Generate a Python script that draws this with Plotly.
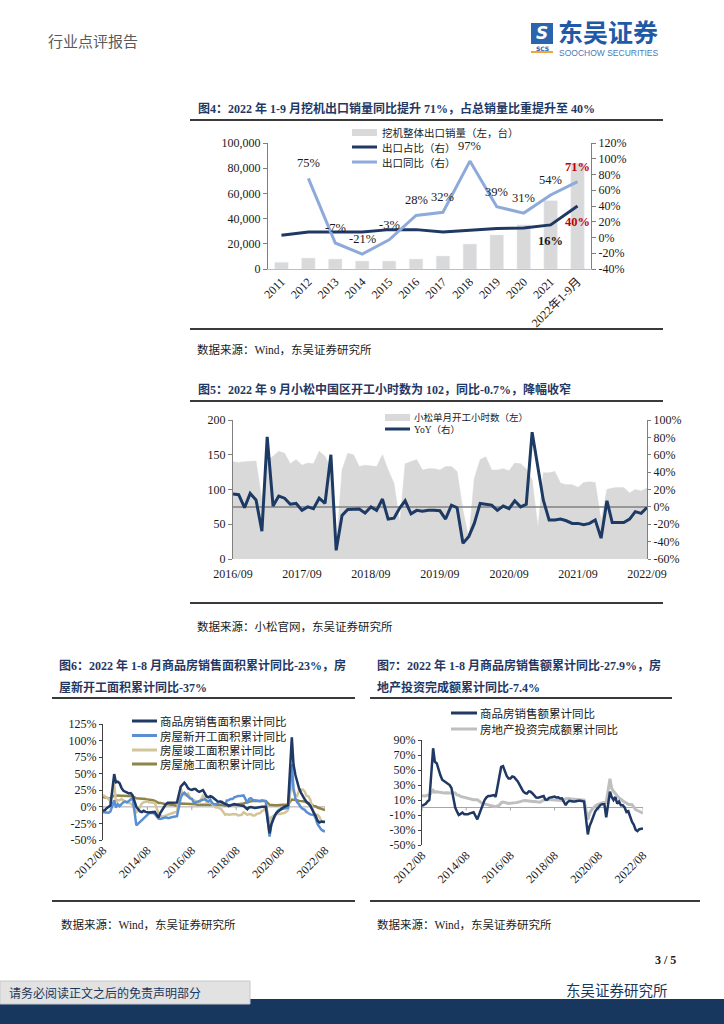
import pandas as pd
import plotly.graph_objects as go

W, H = 724, 1024
SERIF = "Liberation Serif, Noto Sans CJK SC, serif"
CJK = "Noto Sans CJK SC, sans-serif"
NAVY = "#1f3864"
TXT = "#1a1a1a"

# ---------------- Figure 4 data ----------------
fig4_years = ["2011", "2012", "2013", "2014", "2015", "2016", "2017", "2018",
              "2019", "2020", "2021", "2022年1-9月"]
fig4_export_units = [5300, 8700, 7900, 6300, 6300, 7900, 10300, 19800, 27000, 35000, 54200, 84000]
fig4_export_share = [3, 7, 7, 7, 10, 10, 7, 9, 11.5, 12, 16, 40]
fig4_export_yoy = [None, 75, -7, -21, -3, 28, 32, 97, 39, 31, 54, 71]
fig4_left_ticks = [0, 20000, 40000, 60000, 80000, 100000]
fig4_right_ticks = [-40, -20, 0, 20, 40, 60, 80, 100, 120]

# ---------------- Figure 5 data ----------------
fig5_months = pd.date_range("2016-09-01", "2022-09-01", freq="MS")
fig5_hours = [140, 139, 140, 141, 141, 85, 142, 148, 155, 152,
              137, 143, 135, 138, 137, 155, 148, 130, 16, 128,
              152, 150, 133, 135, 134, 133, 150, 128, 109, 52,
              137, 140, 143, 128, 130, 130, 128, 133, 133, 126,
              70, 30, 116, 143, 147, 128, 128, 130, 127, 138,
              137, 130, 114, 45, 124, 124, 126, 109, 107, 107,
              103, 110, 111, 110, 55, 100, 102, 103, 103, 95,
              100, 98, 102]
fig5_yoy = [14.8, 14, -1, 15.5, 8, -28, 80.6, 1, 12.5, 10,
            3, 4, -4, 0, -2, 10, 4, 60, -50, -10,
            -3, -3, -2.5, -7, 0, -4, 9, -14, -13, -1,
            7, -8, -4, -5, -4, -4, -4.5, -14, 2, -1,
            -42, -34, -19, 4, 3, 2, -4, 1, -2, 7,
            0, 3, 86, 46, 8, -15, -15, -14, -16, -19,
            -19, -20.5, -19, -15, -36, 7, -18, -18, -18, -14,
            -5.5, -7.5, -0.7]
fig5_tick_dates = ["2016-09-01", "2017-09-01", "2018-09-01", "2019-09-01",
                   "2020-09-01", "2021-09-01", "2022-09-01"]
fig5_tick_text = ["2016/09", "2017/09", "2018/09", "2019/09", "2020/09", "2021/09", "2022/09"]
fig5_left_ticks = [0, 50, 100, 150, 200]
fig5_right_ticks = [-60, -40, -20, 0, 20, 40, 60, 80, 100]

# ---------------- Figure 6 / 7 data (cumulative, Feb-Dec each year) ----------------
fig67_months = [d for d in pd.date_range("2012-08-01", "2022-08-01", freq="MS") if d.month != 1]
fig67_tick_dates = ["2012-08-01", "2014-08-01", "2016-08-01", "2018-08-01", "2020-08-01", "2022-08-01"]
fig67_tick_text = ["2012/08", "2014/08", "2016/08", "2018/08", "2020/08", "2022/08"]

sales_area = [-6, -5, -2, 0, 2,
              49.5, 37.1, 38.0, 35.6, 28.7, 24.4, 22.8, 21.6, 20.2, 20.8, 17.3,
              -0.1, -3.8, -6.8, -7.8, -6.0, -7.6, -8.3, -8.6, -8.0, -8.2, -7.6,
              -16.3, -9.2, -4.8, -0.2, 3.9, 6.1, 6.2, 7.2, 7.2, 7.4, 6.5,
              30.4, 33.1, 36.5, 33.2, 27.9, 26.4, 25.5, 26.9, 26.8, 24.3, 22.5,
              25.1, 19.5, 15.7, 14.3, 16.1, 15.0, 12.7, 10.3, 8.2, 7.9, 7.7,
              4.1, 3.6, 1.3, 2.9, 3.3, 4.2, 4.0, 2.9, 2.2, 1.4, 1.3,
              -3.6, -0.9, -0.3, -1.6, -1.8, -1.3, -0.6, -0.1, 0.1, 0.2, -0.1,
              -39.9, -26.3, -19.3, -12.3, -8.4, -5.8, -3.3, -1.8, 0.0, 1.3, 2.6,
              104.9, 63.8, 48.1, 36.3, 27.7, 21.5, 15.9, 11.3, 7.6, 4.8, 1.9,
              -9.6, -13.8, -20.9, -23.6, -22.2, -23.1, -23.0]
new_starts = [-8, -8, -8, -9, -7,
              10, -1, 4, 1, 4, 7, 8, 7, 9, 11, 13.5,
              -27.9, -25.2, -22.5, -19.8, -16.4, -13.8, -12.0, -9.3, -8.8, -9.0, -10.7,
              -17.7, -18.4, -17.3, -16.1, -15.8, -16.8, -16.8, -15.6, -15.1, -15.1, -14.0,
              13.7, 19.2, 21.4, 18.6, 14.9, 12.7, 12.2, 6.8, 6.6, 7.6, 8.1,
              10.4, 11.6, 9.8, 8.1, 10.6, 5.5, 3.9, 4.0, 5.8, 7.7, 7.0,
              2.9, 9.7, 10.1, 11.8, 11.8, 14.4, 15.9, 16.4, 16.3, 16.8, 17.2,
              6.0, 11.9, 13.1, 10.5, 10.1, 9.5, 8.9, 8.6, 10.0, 8.6, 8.5,
              -44.9, -27.2, -18.4, -12.8, -7.6, -4.5, -3.6, -3.4, -2.5, -2.0, -1.2,
              64.3, 28.2, 12.8, 6.9, 3.8, -0.9, -3.2, -4.5, -7.7, -9.1, -11.4,
              -12.2, -17.5, -26.3, -30.6, -34.4, -36.1, -37.2]
completions = [18, 16, 14, 12, 7,
               35, 8, 10, 10, 12, 10, 8, 6, 6, 5, 2,
               -8, -5, 0, 5, 7, 8, 8, 7, 7, 6, 6,
               -10, -13, -15, -14, -13, -12, -12, -11, -9, -9, -7,
               28, 20, 18, 17, 20, 14, 12, 10, 8, 7, 6,
               17, 15, 7, 8, 10, 4, 1, -1, -1, -3, -4,
               -12, -11, -12, -11, -11, -11, -11, -13, -12, -12, -8,
               -12, -11, -11, -13, -13, -11, -10, -9, -6, -5, 3,
               -22.9, -15.8, -14.5, -12.2, -10.5, -11.0, -10.8, -9.6, -9.2, -7.3, -4.9,
               40.4, 22.9, 17.9, 16.4, 25.7, 25.7, 26.0, 23.4, 16.3, 16.2, 11.2,
               -9.8, -11.5, -11.9, -15.3, -21.5, -23.3, -21.1]
under_constr = [15, 14, 14, 13, 13,
                17, 17, 17, 16, 16, 16, 16, 16, 16, 16, 16,
                13, 13, 13, 13, 12, 12, 11, 11, 10, 10, 9,
                6, 6, 5, 5, 4, 4, 3, 3, 3, 2, 1.3,
                5, 5, 5, 5, 5, 4, 4, 4, 4, 3, 3,
                3, 4, 4, 3, 3, 3, 3, 3, 3, 3, 3,
                2, 2, 2, 2, 2, 3, 3, 4, 4, 5, 5,
                7, 8, 8, 9, 9, 9, 9, 9, 9, 9, 9,
                3, 2.5, 2.5, 2.5, 2.5, 3, 3, 3, 3, 3, 3.7,
                11, 11, 10, 10, 9, 9, 8, 8, 7, 6, 5,
                1, 1, -1, -2, -3, -4, -5]
sales_amount = [2, 3, 5, 8, 10,
                79, 61, 59, 50, 43, 37, 35, 34, 31, 30, 26,
                -0.1, -5.2, -9.9, -8.5, -6.7, -8.9, -8.9, -8.9, -7.8, -7.2, -6.3,
                -15.8, -9.3, -3.0, 3.0, 10.0, 13.4, 15.3, 15.3, 16.3, 16.6, 14.4,
                43.6, 54.1, 55.2, 47.7, 42.1, 38.7, 38.7, 41.3, 40.6, 37.5, 34.8,
                25.5, 21.3, 19.3, 18.6, 21.5, 21.0, 18.7, 16.5, 13.2, 13.0, 13.7,
                15.3, 10.6, 10.4, 12.9, 13.2, 14.1, 14.5, 13.3, 13.7, 12.1, 12.2,
                3, 7, 9, 8, 8, 8, 9, 9, 9, 9, 8,
                -35.9, -24.7, -18.6, -10.6, -5.4, -2.1, 1.6, 3.7, 4.5, 4.5, -13,
                21, 14, 10, 14, 5, 8, 3, 3, 0, -6, -5,
                -19.3, -22.7, -29.5, -31.5, -28.9, -28.8, -27.9]
invest = [15.6, 15.4, 15.4, 16.7, 16.2,
          22.8, 20.2, 21.1, 20.6, 20.3, 20.5, 19.3, 19.7, 19.2, 19.5, 19.8,
          19.3, 16.8, 16.4, 14.7, 14.1, 13.7, 13.2, 12.5, 12.4, 11.9, 10.5,
          10.4, 8.5, 6.0, 5.1, 4.6, 4.3, 3.5, 2.6, 2.0, 1.3, 1.0,
          3.0, 6.2, 7.2, 7.0, 6.1, 5.3, 5.4, 5.8, 6.6, 6.5, 6.9,
          8.9, 9.1, 9.3, 8.8, 8.5, 7.9, 7.9, 8.1, 7.8, 7.5, 7.0,
          9.9, 10.4, 10.3, 10.2, 9.7, 10.2, 10.1, 9.9, 9.7, 9.7, 9.5,
          11.6, 11.8, 11.9, 11.2, 10.9, 10.6, 10.5, 10.5, 10.3, 10.2, 9.9,
          -16.3, -7.7, -3.3, -0.3, 1.9, 3.4, 4.6, 5.6, 6.3, 6.8, 7.0,
          38.3, 25.6, 21.6, 18.3, 15.0, 12.7, 10.9, 8.8, 7.2, 6.0, 4.4,
          3.7, 0.7, -2.7, -4.0, -5.4, -6.4, -7.4]
fig6_ticks = [-50, -25, 0, 25, 50, 75, 100, 125]
fig7_ticks = [-50, -30, -10, 10, 30, 50, 70, 90]

# ---------------- colours ----------------
C_BAR = "#d9d9d9"
C_NAVY_LINE = "#1f3864"
C_LIGHT = "#8eaadb"
C_BLUE = "#5b8fd3"
C_TAN = "#d3c59a"
C_OLIVE = "#8f8346"
C_GRAY = "#bfbfbf"


def px(x):
    return x / W


def py(y):
    return 1 - y / H


def pct(vals):
    return [f"{v}%" for v in vals]


fig = go.Figure()

# Figure 4 traces
fig.add_trace(go.Bar(x=fig4_years, y=fig4_export_units, marker_color=C_BAR, xaxis="x", yaxis="y"))
fig.add_trace(go.Scatter(x=fig4_years, y=fig4_export_share, mode="lines",
                         line=dict(color=C_NAVY_LINE, width=3), xaxis="x", yaxis="y2"))
fig.add_trace(go.Scatter(x=fig4_years, y=fig4_export_yoy, mode="lines",
                         line=dict(color=C_LIGHT, width=3), xaxis="x", yaxis="y2"))

# Figure 5 traces
fig.add_trace(go.Scatter(x=fig5_months, y=fig5_hours, mode="lines", fill="tozeroy",
                         fillcolor=C_BAR, line=dict(color=C_BAR, width=0.5), xaxis="x2", yaxis="y3"))
fig.add_trace(go.Scatter(x=[fig5_months[0], fig5_months[-1]], y=[0, 0], mode="lines",
                         line=dict(color="#808080", width=1.5), xaxis="x2", yaxis="y4"))
fig.add_trace(go.Scatter(x=fig5_months, y=fig5_yoy, mode="lines",
                         line=dict(color="#1c3a63", width=3), xaxis="x2", yaxis="y4"))

# Figure 6 traces
for series, col in [(under_constr, C_OLIVE), (completions, C_TAN), (new_starts, C_BLUE), (sales_area, C_NAVY_LINE)]:
    fig.add_trace(go.Scatter(x=fig67_months, y=series, mode="lines",
                             line=dict(color=col, width=2.5), xaxis="x3", yaxis="y5"))

# Figure 7 traces
fig.add_trace(go.Scatter(x=fig67_months, y=invest, mode="lines",
                         line=dict(color=C_GRAY, width=3), xaxis="x4", yaxis="y6"))
fig.add_trace(go.Scatter(x=fig67_months, y=sales_amount, mode="lines",
                         line=dict(color=C_NAVY_LINE, width=2.5), xaxis="x4", yaxis="y6"))

tick_font = dict(family=SERIF, size=12, color=TXT)
axis_common = dict(showgrid=False, zeroline=False, tickfont=tick_font, automargin=False)

annotations = []
shapes = []


def text(x, y, s, size=12, color=TXT, family=CJK, xanchor="left", yanchor="middle"):
    annotations.append(dict(xref="paper", yref="paper", x=px(x), y=py(y), text=s, showarrow=False,
                            font=dict(size=size, color=color, family=family),
                            xanchor=xanchor, yanchor=yanchor, borderpad=0))


def hline(x0, x1, y, color="#3a3a3a", width=2):
    shapes.append(dict(type="line", xref="paper", yref="paper", x0=px(x0), x1=px(x1),
                       y0=py(y), y1=py(y), line=dict(color=color, width=width)))


def rect(x0, y0, x1, y1, fill, line_color=None):
    shapes.append(dict(type="rect", xref="paper", yref="paper", x0=px(x0), x1=px(x1),
                       y0=py(y1), y1=py(y0), fillcolor=fill,
                       line=dict(color=line_color or fill, width=1 if line_color else 0)))


# ---------------- page header ----------------
text(47, 40, "行业点评报告", size=15, color="#595959")
rect(531, 23, 553, 44, "#2c63ad")
text(542, 33, "<b><i>S</i></b>", size=17, color="white", family="DejaVu Sans", xanchor="center")
text(542, 48, "<b>SCS</b>", size=6, color="#2c63ad", family="DejaVu Sans", xanchor="center")
rect(531, 51, 553, 53, "#f2a33a")
text(557, 31, "<b>东吴证券</b>", size=25, color="#1f5aa8")
text(558, 53, "SOOCHOW SECURITIES", size=8.5, color="#4a78b8", family="Liberation Sans, sans-serif")

# ---------------- Figure 4 decorations ----------------
text(197, 108, "<b>图4：2022 年 1-9 月挖机出口销量同比提升 71%，占总销量比重提升至 40%</b>",
     size=12, color=NAVY, family=SERIF)
hline(190, 663, 120)
hline(190, 663, 329)
text(196, 349, "数据来源：Wind，东吴证券研究所", size=11.5, family=SERIF)
rect(352, 129, 377, 136, C_BAR)
text(381, 132, "挖机整体出口销量（左，台）", size=10.5)
hline(352, 377, 147, C_NAVY_LINE, 3)
text(381, 147, "出口占比（右）", size=10.5)
hline(352, 377, 162, C_LIGHT, 3)
text(381, 162, "出口同比（右）", size=10.5)

last = len(fig4_years) - 1
for i, v in enumerate(fig4_export_yoy):
    if v is None:
        continue
    red = i == last
    annotations.append(dict(xref="x", yref="y2", x=i, y=v, text=(f"<b>{v:.0f}%</b>" if red else f"{v:.0f}%"),
                            showarrow=False, yshift=15,
                            font=dict(family=SERIF, size=12.5, color="#c00000" if red else TXT)))
for i in (last - 1, last):
    v = fig4_export_share[i]
    red = i == last
    annotations.append(dict(xref="x", yref="y2", x=i, y=v, text=f"<b>{v:.0f}%</b>",
                            showarrow=False, yshift=-16,
                            font=dict(family=SERIF, size=12.5, color="#c00000" if red else TXT)))

# ---------------- Figure 5 decorations ----------------
text(197, 389, "<b>图5：2022 年 9 月小松中国区开工小时数为 102，同比-0.7%，降幅收窄</b>",
     size=12, color=NAVY, family=SERIF)
hline(190, 663, 401)
hline(190, 663, 603)
text(196, 626, "数据来源：小松官网，东吴证券研究所", size=11.5, family=SERIF)
rect(385, 414, 410, 421, C_BAR)
text(413, 417, "小松单月开工小时数（左）", size=9.5)
hline(385, 410, 429, "#1c3a63", 3)
text(413, 429, "<span style='font-family:Liberation Serif'>YoY</span>（右）", size=9.5)

# ---------------- Figure 6 decorations ----------------
text(58, 665, "<b>图6：2022 年 1-8 月商品房销售面积累计同比-23%，房</b>", size=12, color=NAVY, family=SERIF)
text(58, 687, "<b>屋新开工面积累计同比-37%</b>", size=12, color=NAVY, family=SERIF)
hline(52, 355, 698)
hline(52, 355, 901)
text(60, 924, "数据来源：Wind，东吴证券研究所", size=11.5, family=SERIF)
for yy, col, lab in [(721, C_NAVY_LINE, "商品房销售面积累计同比"), (735.5, C_BLUE, "房屋新开工面积累计同比"),
                     (750, C_TAN, "房屋竣工面积累计同比"), (764, C_OLIVE, "房屋施工面积累计同比")]:
    hline(132, 157, yy, col, 3)
    text(159, yy, lab, size=11.5)

# ---------------- Figure 7 decorations ----------------
text(376, 665, "<b>图7：2022 年 1-8 月商品房销售额累计同比-27.9%，房</b>", size=12, color=NAVY, family=SERIF)
text(376, 687, "<b>地产投资完成额累计同比-7.4%</b>", size=12, color=NAVY, family=SERIF)
hline(370, 672, 698)
hline(370, 700, 901)
text(376, 924, "数据来源：Wind，东吴证券研究所", size=11.5, family=SERIF)
for yy, col, lab in [(713, C_NAVY_LINE, "商品房销售额累计同比"), (729, C_GRAY, "房地产投资完成额累计同比")]:
    hline(451, 477, yy, col, 3)
    text(479, yy, lab, size=11.5)

# zero lines and small ticks for fig 6/7
for xr, yr, tl in [("x3", "y5", -5), ("x4", "y6", -4)]:
    shapes.append(dict(type="line", xref=f"{xr} domain", yref=yr, x0=0, x1=1, y0=0, y1=0,
                       line=dict(color="#a6a6a6", width=1), layer="below"))
    for d in fig67_tick_dates:
        shapes.append(dict(type="line", xref=xr, yref=yr, x0=d, x1=d, y0=0, y1=tl,
                           line=dict(color="#a6a6a6", width=1), layer="below"))

# ---------------- footer ----------------
text(677, 960, "<b>3 / 5</b>", size=12, family=SERIF, xanchor="right")
text(565, 989, "东吴证券研究所", size=14.5, color="#17375e")
rect(0, 999, 724, 1024, "#17375e")
rect(0, 981, 250, 1004, "#e2e2e2", "#c8c8c8")
text(8, 992, "请务必阅读正文之后的免责声明部分", size=12, color="#17375e")

fig.update_layout(
    width=W, height=H, margin=dict(l=0, r=0, t=0, b=0, autoexpand=False),
    autosize=False,
    paper_bgcolor="white", plot_bgcolor="rgba(0,0,0,0)", showlegend=False, bargap=0.5,
    xaxis=dict(domain=[px(268), px(591)], anchor="y", type="category", tickangle=-45,
               range=[-0.5, len(fig4_years) - 0.5],
               showline=True, linecolor="#bfbfbf", ticks="", **axis_common),
    yaxis=dict(domain=[py(269), py(143)], anchor="x", range=[0, 100000], tickvals=fig4_left_ticks,
               ticktext=[f"{v:,}" for v in fig4_left_ticks], showline=True, linecolor="#7f7f7f",
               ticks="outside", ticklen=4, tickcolor="#7f7f7f", **axis_common),
    yaxis2=dict(overlaying="y", side="right", anchor="x", range=[-40, 120], tickvals=fig4_right_ticks,
                ticktext=pct(fig4_right_ticks), showline=True, linecolor="#7f7f7f", ticks="outside", ticklen=4,
                tickcolor="#7f7f7f", **axis_common),
    xaxis2=dict(domain=[px(233), px(647)], anchor="y3", type="date",
                range=[fig5_months[0], fig5_months[-1]], tickvals=fig5_tick_dates, ticktext=fig5_tick_text,
                showline=False, ticks="", ticklabelstandoff=6, **axis_common),
    yaxis3=dict(domain=[py(559), py(420)], anchor="x2", range=[0, 200], tickvals=fig5_left_ticks,
                ticktext=[str(v) for v in fig5_left_ticks],
                showline=True, linecolor="#7f7f7f", ticks="outside", ticklen=4, tickcolor="#7f7f7f",
                **axis_common),
    yaxis4=dict(overlaying="y3", side="right", anchor="x2", range=[-60, 100], tickvals=fig5_right_ticks,
                ticktext=pct(fig5_right_ticks), showline=True, linecolor="#7f7f7f", ticks="outside", ticklen=3,
                tickcolor="#7f7f7f", **axis_common),
    xaxis3=dict(domain=[px(103), px(325)], anchor="y5", type="date",
                range=[fig67_months[0], fig67_months[-1]], tickvals=fig67_tick_dates, ticktext=fig67_tick_text,
                tickangle=-45, showline=False, ticks="", **axis_common),
    yaxis5=dict(domain=[py(840), py(724)], anchor="x3", range=[-50, 125], tickvals=fig6_ticks,
                ticktext=pct(fig6_ticks), showline=True, linecolor="#404040", ticks="outside", ticklen=3,
                tickcolor="#404040", **axis_common),
    xaxis4=dict(domain=[px(422), px(643)], anchor="y6", type="date",
                range=[fig67_months[0], fig67_months[-1]], tickvals=fig67_tick_dates, ticktext=fig67_tick_text,
                tickangle=-45, showline=False, ticks="", **axis_common),
    yaxis6=dict(domain=[py(845), py(740)], anchor="x4", range=[-50, 90], tickvals=fig7_ticks,
                ticktext=pct(fig7_ticks), showline=True, linecolor="#404040", ticks="outside", ticklen=3,
                tickcolor="#404040", **axis_common),
    annotations=annotations,
    shapes=shapes,
)

fig.write_html("out.html", config={"displayModeBar": False},
               post_script="document.body.style.margin='0';")
